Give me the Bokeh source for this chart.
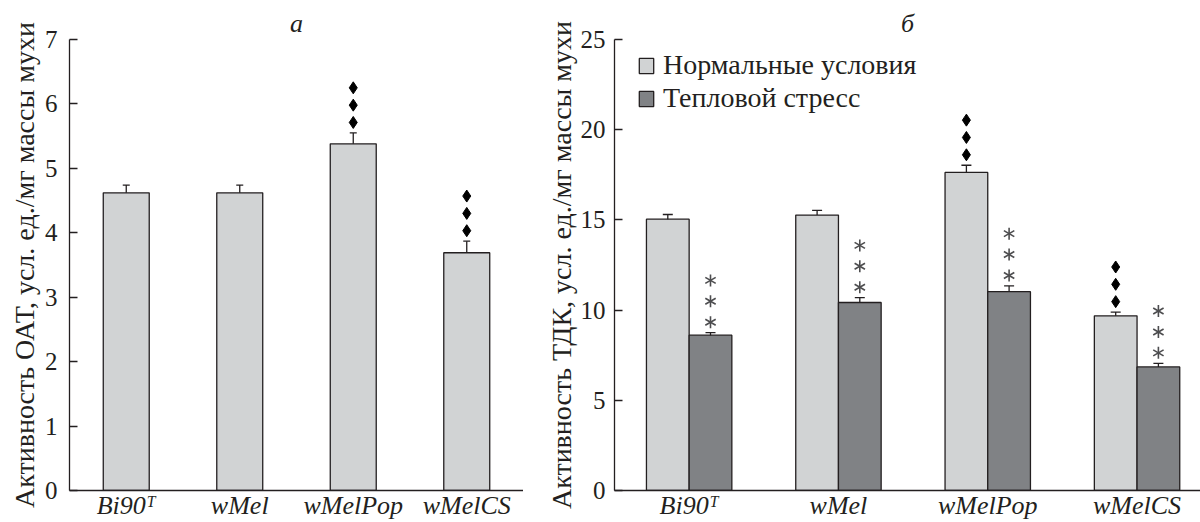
import math
from bokeh.plotting import figure
from bokeh.models import (ColumnDataSource, Whisker, TeeHead, Range1d,
                          FixedTicker, Legend, LegendItem)
from bokeh.layouts import row
from bokeh.embed import file_html
from bokeh.resources import INLINE

# ---------------- data ----------------
categories = ["Bi90ᵀ", "wMel", "wMelPop", "wMelCS"]

oat_mean = [4.62, 4.62, 5.38, 3.69]
oat_err = [0.12, 0.12, 0.17, 0.18]
oat_marks = [0, 0, 3, 3]            # diamonds (vs Bi90T)

tdc_normal = [15.04, 15.27, 17.63, 9.68]
tdc_normal_err = [0.26, 0.26, 0.40, 0.21]
tdc_normal_marks = [0, 0, 3, 3]     # diamonds
tdc_heat = [8.61, 10.42, 11.02, 6.85]
tdc_heat_err = [0.14, 0.27, 0.32, 0.20]
tdc_heat_marks = [3, 3, 3, 3]       # asterisks

legend_labels = ["Нормальные условия", "Тепловой стресс"]
panel_titles = ["а", "б"]
y_labels = ["Активность ОАТ, усл. ед./мг массы мухи",
            "Активность ТДК, усл. ед./мг массы мухи"]
oat_ticks = [0, 1, 2, 3, 4, 5, 6, 7]
tdc_ticks = [0, 5, 10, 15, 20, 25]

# ---------------- style ----------------
FONT = "Liberation Serif"
INK = "#231f20"
LIGHT = "#d1d3d4"
DARK = "#808285"
STAR = "#4d4d4f"
FS_TICK = "25px"
FS_CAT = "26px"
FS_LABEL = "28px"
FS_TITLE = "26px"
H = 522
TOP, BOTTOM = 39, 30
W1, LEFT1 = 523, 69
W2, LEFT2 = 677, 91
FRAME_H = H - TOP - BOTTOM
CAT_PX_RIGHT = 149.3
BAR_W_LEFT = 0.405
BAR_W_RIGHT = 0.286


def base_fig(width, left, x_range, y_max, ticks, ylabel, title, standoff, label_standoff):
    p = figure(width=width, height=H, x_range=x_range, y_range=Range1d(0, y_max),
               output_backend="svg", toolbar_location=None, tools="", title=title)
    p.min_border_left = left
    p.min_border_right = 0
    p.min_border_top = TOP
    p.min_border_bottom = BOTTOM
    p.outline_line_color = None
    p.xgrid.visible = False
    p.ygrid.visible = False
    p.title.align = "center"
    p.title.text_font = FONT
    p.title.text_font_size = FS_TITLE
    p.title.text_font_style = "italic"
    p.title.text_color = INK
    p.title.standoff = 3
    yax = p.yaxis[0]
    yax.ticker = FixedTicker(ticks=ticks)
    yax.major_tick_in = 8
    yax.major_tick_out = 0
    yax.minor_tick_in = 0
    yax.minor_tick_out = 0
    yax.axis_line_color = INK
    yax.axis_line_width = 1.3
    yax.major_tick_line_color = INK
    yax.major_tick_line_width = 1.3
    yax.major_label_text_font = FONT
    yax.major_label_text_font_size = FS_TICK
    yax.major_label_text_color = INK
    yax.major_label_standoff = standoff
    yax.axis_label = ylabel
    yax.axis_label_text_font = FONT
    yax.axis_label_text_font_size = FS_LABEL
    yax.axis_label_text_font_style = "normal"
    yax.axis_label_text_color = INK
    yax.axis_label_standoff = label_standoff
    xax = p.xaxis[0]
    xax.ticker = FixedTicker(ticks=list(range(len(categories))))
    xax.major_label_overrides = {i: c for i, c in enumerate(categories)}
    xax.major_tick_out = 0
    xax.major_tick_in = 0
    xax.minor_tick_out = 0
    xax.minor_tick_in = 0
    xax.major_label_standoff = 0
    xax.major_label_text_font = FONT
    xax.major_label_text_font_size = FS_CAT
    xax.major_label_text_font_style = "italic"
    xax.major_label_text_color = INK
    xax.axis_line_color = INK
    xax.axis_line_width = 1.3
    return p


def add_bars(p, xs, tops, errs, width, color, head):
    src = ColumnDataSource(dict(x=xs, top=tops,
                                upper=[t + e for t, e in zip(tops, errs)],
                                lower=[t - e for t, e in zip(tops, errs)]))
    r = p.vbar(x="x", top="top", width=width, bottom=0, source=src,
               fill_color=color, line_color=INK, line_width=1.3)
    w = Whisker(source=src, base="x", upper="upper", lower="lower",
                line_color=INK, line_width=1.3,
                upper_head=TeeHead(size=head, line_color=INK, line_width=1.3),
                lower_head=TeeHead(size=head, line_color=INK, line_width=1.3))
    p.add_layout(w)
    return r


def mark_positions(xs, tops, errs, counts, ppu, gap, step):
    mx, my = [], []
    for x, t, e, n in zip(xs, tops, errs, counts):
        for k in range(n):
            mx.append(x)
            my.append(t + e + (gap + k * step) / ppu)
    return mx, my


def add_diamonds(p, xs, tops, errs, counts, ppu):
    mx, my = mark_positions(xs, tops, errs, counts, ppu, 10.5, 17.4)
    p.scatter(mx, my, marker="diamond", size=12, fill_color="black", line_color="black")


def add_asterisks(p, xs, tops, errs, counts, ppu):
    mx, my = mark_positions(xs, tops, errs, counts, ppu, 10.5, 21.0)
    ax, ay, aa = [], [], []
    for ang in (math.pi / 2, math.pi / 6, -math.pi / 6):
        ax += mx
        ay += my
        aa += [ang] * len(mx)
    p.scatter(ax, ay, angle=aa, marker="dash", size=12, line_color=STAR, line_width=1.6)


idx = list(range(len(categories)))

# ---------------- panel a ----------------
p1 = base_fig(W1, LEFT1, Range1d(-0.5, len(categories) - 0.5), 7, oat_ticks,
              y_labels[0], panel_titles[0], 12, 2)
add_bars(p1, idx, oat_mean, oat_err, BAR_W_LEFT, LIGHT, 7)
add_diamonds(p1, idx, oat_mean, oat_err, oat_marks, FRAME_H / 7)

# ---------------- panel b ----------------
x_end = -0.5 + (W2 - LEFT2) / CAT_PX_RIGHT
p2 = base_fig(W2, LEFT2, Range1d(-0.5, x_end), 25, tdc_ticks,
              y_labels[1], panel_titles[1], 9, 1)
xn = [i - BAR_W_RIGHT / 2 for i in idx]
xh = [i + BAR_W_RIGHT / 2 for i in idx]
rn = add_bars(p2, xn, tdc_normal, tdc_normal_err, BAR_W_RIGHT, LIGHT, 10)
rh = add_bars(p2, xh, tdc_heat, tdc_heat_err, BAR_W_RIGHT, DARK, 10)
add_diamonds(p2, xn, tdc_normal, tdc_normal_err, tdc_normal_marks, FRAME_H / 25)
add_asterisks(p2, xh, tdc_heat, tdc_heat_err, tdc_heat_marks, FRAME_H / 25)

legend = Legend(items=[LegendItem(label=legend_labels[0], renderers=[rn]),
                       LegendItem(label=legend_labels[1], renderers=[rh])],
                location=(23, 376), margin=0, padding=0, spacing=1,
                glyph_width=18, glyph_height=19, label_height=30, label_standoff=8,
                label_text_font=FONT, label_text_font_size=FS_LABEL, label_text_color=INK,
                border_line_color=None, background_fill_alpha=0)
p2.add_layout(legend)

layout = row(p1, p2)
open("out.html", "w").write(file_html(layout, INLINE))
